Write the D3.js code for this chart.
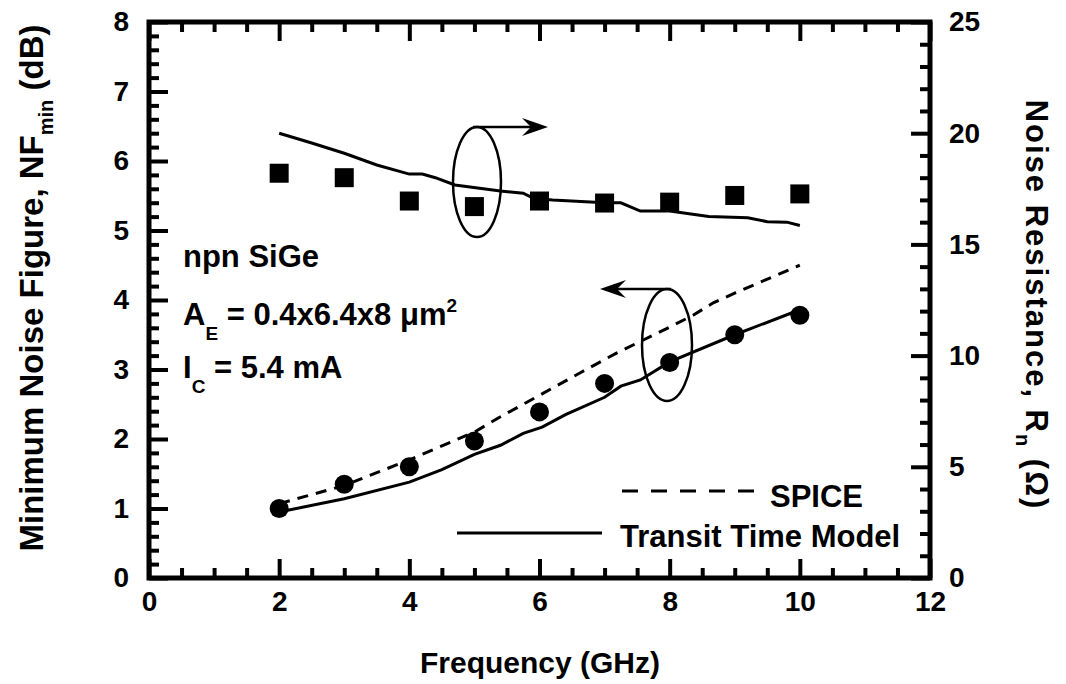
<!DOCTYPE html>
<html>
<head>
<meta charset="utf-8">
<script src="https://cdn.jsdelivr.net/npm/d3@7.9.0/dist/d3.min.js"></script>
<style>
  body { margin: 0; background: #fff; }
  svg { display: block; font-family: "Liberation Sans", Arial, sans-serif; font-weight: bold; }
  .axis path { display: none; }
  .axis line { stroke: #000; stroke-width: 4; }
  .axis text { font-size: 28px; font-weight: bold; fill: #000; font-family: "Liberation Sans", Arial, sans-serif; }
</style>
</head>
<body>
<svg id="chart" width="1066" height="684"></svg>
<script>
// measured points (symbols)
const freqMeas = [2, 3, 4, 5, 6, 7, 8, 9, 10];
const nfMeas = [1.0, 1.35, 1.6, 1.97, 2.39, 2.8, 3.1, 3.5, 3.78];
const rnMeas = [18.2, 18.0, 16.95, 16.7, 16.95, 16.86, 16.9, 17.2, 17.27];

// transit time model (solid lines)
const freqTTNf = [2, 3, 4, 4.5, 5, 5.4, 5.75, 6.04, 6.4, 7.0, 7.25, 7.55, 8.0, 9.0, 10];
const nfTT = [0.95, 1.14, 1.38, 1.56, 1.78, 1.91, 2.08, 2.17, 2.35, 2.6, 2.76, 2.85, 3.11, 3.5, 3.86];
const freqTTRn = [2, 2.5, 3, 3.5, 4, 4.2, 4.4, 4.7, 5.4, 5.75, 5.9, 6.2, 7.0, 7.25, 7.55, 8.0, 8.6, 9.2, 9.5, 9.8, 10];
const rnTT = [20.0, 19.56, 19.1, 18.57, 18.16, 18.16, 18.0, 17.67, 17.4, 17.3, 17.08, 17.0, 16.87, 16.87, 16.5, 16.5, 16.25, 16.2, 16.02, 16.0, 15.85];

// SPICE (dashed)
const freqSpice = [2, 3, 4, 5, 5.4, 6.06, 6.62, 7.19, 7.85, 8.36, 8.67, 9.0, 10];
const nfSpice = [1.07, 1.33, 1.7, 2.1, 2.32, 2.66, 2.95, 3.24, 3.54, 3.78, 3.96, 4.1, 4.5];

// axis ticks
const xMajor = [0, 2, 4, 6, 8, 10, 12];
const yLeftMajor = [0, 1, 2, 3, 4, 5, 6, 7, 8];
const yRightMajor = [0, 5, 10, 15, 20, 25];

const plotL = 149, plotR = 930, plotT = 22, plotB = 578;

let svg = d3.select('#chart');

let x = d3.scaleLinear().domain([0, 12]).range([plotL, plotR]);
let yL = d3.scaleLinear().domain([0, 8]).range([plotB, plotT]);
let yR = d3.scaleLinear().domain([0, 25]).range([plotB, plotT]);

let xMinor = d3.range(0, 12.01, 0.5).filter(v => v % 2 !== 0);
let yLMinor = d3.range(0, 8.01, 0.2).map(v => +v.toFixed(1)).filter(v => Math.abs(v - Math.round(v)) > 0.01);
let yRMinor = d3.range(0, 26, 1).filter(v => v % 5 !== 0);

// minor ticks
svg.append('g').attr('class', 'axis').attr('transform', `translate(0,${plotB})`)
    .call(d3.axisBottom(x).tickValues(xMinor).tickSize(-10).tickFormat(''));
svg.append('g').attr('class', 'axis').attr('transform', `translate(0,${plotT})`)
    .call(d3.axisTop(x).tickValues(xMinor).tickSize(-10).tickFormat(''));
svg.append('g').attr('class', 'axis').attr('transform', `translate(${plotL},0)`)
    .call(d3.axisLeft(yL).tickValues(yLMinor).tickSize(-10).tickFormat(''));
svg.append('g').attr('class', 'axis').attr('transform', `translate(${plotR},0)`)
    .call(d3.axisRight(yR).tickValues(yRMinor).tickSize(-10).tickFormat(''));

// major ticks + labels
svg.append('g').attr('class', 'axis').attr('transform', `translate(0,${plotB})`)
    .call(d3.axisBottom(x).tickValues(xMajor).tickSize(-19).tickPadding(13).tickFormat(d3.format('d')));
svg.append('g').attr('class', 'axis').attr('transform', `translate(0,${plotT})`)
    .call(d3.axisTop(x).tickValues(xMajor).tickSize(-19).tickFormat(''));
svg.append('g').attr('class', 'axis').attr('transform', `translate(${plotL},0)`)
    .call(d3.axisLeft(yL).tickValues(yLeftMajor).tickSize(-19).tickPadding(20).tickFormat(d3.format('d')));
svg.append('g').attr('class', 'axis').attr('transform', `translate(${plotR},0)`)
    .call(d3.axisRight(yR).tickValues(yRightMajor).tickSize(-19).tickPadding(19).tickFormat(d3.format('d')));

// frame
svg.append('rect')
    .attr('x', plotL).attr('y', plotT)
    .attr('width', plotR - plotL).attr('height', plotB - plotT)
    .attr('fill', 'none').attr('stroke', '#000').attr('stroke-width', 5);

// lines
let lineNf = d3.line().x(d => x(d[0])).y(d => yL(d[1]));
let lineRn = d3.line().x(d => x(d[0])).y(d => yR(d[1]));

svg.append('path')
    .attr('d', lineRn(d3.zip(freqTTRn, rnTT)))
    .attr('fill', 'none').attr('stroke', '#000').attr('stroke-width', 3);
svg.append('path')
    .attr('d', lineNf(d3.zip(freqTTNf, nfTT)))
    .attr('fill', 'none').attr('stroke', '#000').attr('stroke-width', 3);
svg.append('path')
    .attr('d', lineNf(d3.zip(freqSpice, nfSpice)))
    .attr('fill', 'none').attr('stroke', '#000').attr('stroke-width', 3)
    .attr('stroke-dasharray', '11,8');

// symbols
svg.append('g').selectAll('rect')
    .data(d3.zip(freqMeas, rnMeas))
    .join('rect')
    .attr('x', d => x(d[0]) - 9.5).attr('y', d => yR(d[1]) - 9.5)
    .attr('width', 19).attr('height', 19).attr('fill', '#000');
svg.append('g').selectAll('circle')
    .data(d3.zip(freqMeas, nfMeas))
    .join('circle')
    .attr('cx', d => x(d[0])).attr('cy', d => yL(d[1]))
    .attr('r', 9.5).attr('fill', '#000');

// ellipses with arrows
function ellipseArrow(cx, cy, rx, ry, tipX) {
    svg.append('ellipse')
        .attr('cx', cx).attr('cy', cy).attr('rx', rx).attr('ry', ry)
        .attr('fill', 'none').attr('stroke', '#000').attr('stroke-width', 2.5);
    let yTop = cy - ry;
    let dir = tipX > cx ? 1 : -1;
    svg.append('line')
        .attr('x1', cx - 4 * dir).attr('y1', yTop).attr('x2', tipX - 6 * dir).attr('y2', yTop)
        .attr('stroke', '#000').attr('stroke-width', 2.5);
    svg.append('path')
        .attr('d', `M${tipX},${yTop} L${tipX - 26 * dir},${yTop - 9} L${tipX - 17 * dir},${yTop} L${tipX - 26 * dir},${yTop + 9} Z`)
        .attr('fill', '#000');
}
ellipseArrow(477, 182, 24, 55, 548);
ellipseArrow(667, 345, 25, 56, 600);

// text annotations
let note = svg.append('g').attr('font-size', 31).attr('fill', '#000');
note.append('text').attr('x', 183).attr('y', 267).text('npn SiGe');
let ae = note.append('text').attr('x', 183).attr('y', 325);
ae.append('tspan').text('A');
ae.append('tspan').attr('dy', 15).attr('font-size', 19).text('E');
ae.append('tspan').attr('dy', -15).text(' = 0.4x6.4x8 μm');
ae.append('tspan').attr('dy', -13).attr('font-size', 19).text('2');
let ic = note.append('text').attr('x', 183).attr('y', 378);
ic.append('tspan').text('I');
ic.append('tspan').attr('dy', 15).attr('font-size', 19).text('C');
ic.append('tspan').attr('dy', -15).text(' = 5.4 mA');

// legend
svg.append('line').attr('x1', 622).attr('x2', 754).attr('y1', 491).attr('y2', 491)
    .attr('stroke', '#000').attr('stroke-width', 3).attr('stroke-dasharray', '16,13');
note.append('text').attr('x', 770).attr('y', 507).text('SPICE');
svg.append('line').attr('x1', 457).attr('x2', 602).attr('y1', 533).attr('y2', 533)
    .attr('stroke', '#000').attr('stroke-width', 3);
note.append('text').attr('x', 620).attr('y', 547).text('Transit Time Model');

// axis titles
svg.append('text')
    .attr('x', 540).attr('y', 673)
    .attr('text-anchor', 'middle').attr('font-size', 30)
    .text('Frequency (GHz)');

let lt = svg.append('text')
    .attr('transform', 'translate(43,288) rotate(-90)')
    .attr('text-anchor', 'middle').attr('font-size', 33);
lt.append('tspan').text('Minimum Noise Figure, NF');
lt.append('tspan').attr('dy', 10).attr('font-size', 20).text('min');
lt.append('tspan').attr('dy', -10).text(' (dB)');

let rt = svg.append('text')
    .attr('transform', 'translate(1026,305) rotate(90)')
    .attr('text-anchor', 'middle').attr('font-size', 31)
    .attr('letter-spacing', 2);
rt.append('tspan').text('Noise Resistance, R');
rt.append('tspan').attr('dy', 10).attr('font-size', 20).text('n');
rt.append('tspan').attr('dy', -10).text(' (Ω)');
</script>
</body>
</html>
